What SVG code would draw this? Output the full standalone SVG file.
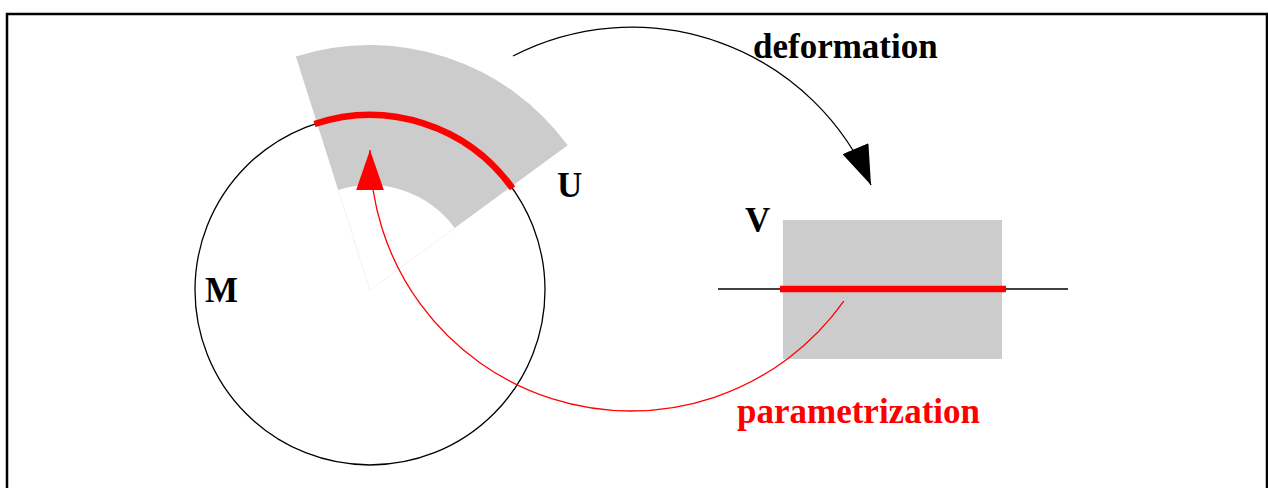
<svg xmlns="http://www.w3.org/2000/svg" width="1268" height="488" viewBox="0 0 1268 488">
<style>
.lbl{font-family:"Liberation Serif","Times New Roman",serif;font-weight:bold;font-size:35px;fill:#000}
.red{fill:#ff0000}
.region{fill:#cccccc;stroke:none}
.thin{fill:none;stroke:#000;stroke-width:1.3}
.thinred{fill:none;stroke:#ff0000;stroke-width:1.3}
.thick{fill:none;stroke:#ff0000;stroke-width:6.5}
</style>
<defs>
<marker id="arrB" markerUnits="userSpaceOnUse" markerWidth="40" markerHeight="28" viewBox="0 0 38 27" refX="38" refY="13.5" orient="auto">
<path d="M0,0 L38,13.5 L0,27 z" fill="#000"/>
</marker>
<marker id="arrR" markerUnits="userSpaceOnUse" markerWidth="40" markerHeight="28" viewBox="0 0 39 27" refX="39" refY="13.5" orient="auto">
<path d="M0,0 L39,13.5 L0,27 z" fill="#ff0000"/>
</marker>
</defs>
<rect x="7" y="14" width="1260" height="490" fill="#fff" stroke="#000" stroke-width="2.5"/>
<g id="U">
<path class="region" d="M295.9,56.5 A245,245 0 0 1 567.7,145.3 L454.7,228 A105,105 0 0 0 338.2,189.9 Z"/>
<path d="M338.2,189.9 L370,290 L454.7,228" fill="none" stroke="#ececec" stroke-width="0.7"/>
<text class="lbl" x="557" y="197">U</text>
</g>
<g id="M">
<circle class="thin" cx="370" cy="290" r="175"/>
<path class="thick" d="M314.5,124 A175,175 0 0 1 512.5,188.4"/>
<text class="lbl" x="205" y="302">M</text>
</g>
<g id="V">
<rect class="region" x="783" y="220" width="219" height="139"/>
<line class="thin" x1="718" y1="289" x2="1068" y2="289"/>
<line class="thick" x1="780" y1="289" x2="1006" y2="289"/>
<text class="lbl" x="745" y="232">V</text>
</g>
<g id="connectors">
<path class="thin" d="M513,56 A260,260 0 0 1 871,185" marker-end="url(#arrB)"/>
<path class="thinred" d="M843.8,301.1 A261,261 0 0 1 370,150" marker-end="url(#arrR)"/>
<text class="lbl" x="753" y="58">deformation</text>
<text class="lbl red" x="737" y="423">parametrization</text>
</g>
</svg>
